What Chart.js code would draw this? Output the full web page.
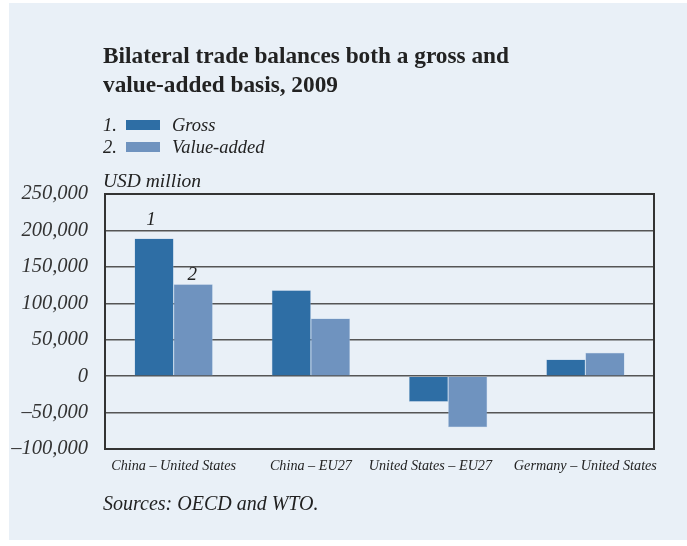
<!DOCTYPE html>
<html>
<head>
<meta charset="utf-8">
<script src="https://cdn.jsdelivr.net/npm/chart.js@4/dist/chart.umd.min.js"></script>
<style>
  body { margin: 0; background: #fff; }
  #panel { position: absolute; left: 9px; top: 3px; width: 678px; height: 537px; background: #e9f0f7; }
  #wrap { position: absolute; left: 0; top: 0; width: 687px; height: 546px; }
  .txt { position: absolute; font-family: "Liberation Serif", serif; color: #222; }
  #title { left: 103px; top: 41px; font-size: 23.3px; font-weight: bold; line-height: 29px; }
  #legend { left: 103px; top: 114px; font-size: 18.5px; font-style: italic; line-height: 22px; }
  .row { display: flex; align-items: center; }
  .num { width: 23px; }
  .sw { width: 34px; height: 10px; margin-right: 12px; }
  #unit { left: 103px; top: 170px; font-size: 19.5px; font-style: italic; }
  #note { left: 103px; top: 492px; font-size: 20px; font-style: italic; }
</style>
</head>
<body>
<div id="panel"></div>
<div id="wrap"><canvas id="chart" width="687" height="546"></canvas></div>
<div class="txt" id="title">Bilateral trade balances both a gross and<br>value-added basis, 2009</div>
<div class="txt" id="legend"></div>
<div class="txt" id="unit">USD million</div>
<div class="txt" id="note">Sources: OECD and WTO.</div>
<script>
var categories = ['China – United States', 'China – EU27', 'United States – EU27', 'Germany – United States'];
var seriesNames = ['Gross', 'Value-added'];
var grossValues = [189000, 118000, -35000, 23000];
var valueAddedValues = [126000, 79000, -70000, 32000];
var yTicks = [-100000, -50000, 0, 50000, 100000, 150000, 200000, 250000];
var colors = ['#2e6ea5', '#6f93bf'];

// legend built from the series names
var legendHtml = '';
seriesNames.forEach(function (name, i) {
    legendHtml += '<div class="row"><span class="num">' + (i + 1) + '.</span>' +
        '<span class="sw" style="background:' + colors[i] + '"></span>' + name + '</div>';
});
document.getElementById('legend').innerHTML = legendHtml;

function fmt(v) {
    var s = Math.abs(v).toLocaleString('en-US');
    return v < 0 ? '\u2013' + s : s;
}

// box around the plot and the small 1 / 2 markers on the first pair
var extras = {
    id: 'extras',
    afterDatasetsDraw: function (chart) {
        var ctx = chart.ctx;
        var a = chart.chartArea;
        ctx.save();
        ctx.strokeStyle = '#333';
        ctx.lineWidth = 2;
        ctx.strokeRect(a.left, a.top, a.right - a.left, a.bottom - a.top);
        ctx.fillStyle = '#222';
        ctx.font = 'italic 19px "Liberation Serif"';
        ctx.textAlign = 'center';
        ctx.textBaseline = 'bottom';
        var b1 = chart.getDatasetMeta(0).data[0];
        var b2 = chart.getDatasetMeta(1).data[0];
        ctx.fillText('1', b1.x - 3, b1.y - 9);
        ctx.fillText('2', b2.x - 1, b2.y - 0);
        ctx.restore();
    }
};

new Chart(document.getElementById('chart'), {
    type: 'bar',
    data: {
        labels: categories,
        datasets: [
            { label: seriesNames[0], data: grossValues, backgroundColor: colors[0], borderColor: '#9fbbd9', borderWidth: 0.5 },
            { label: seriesNames[1], data: valueAddedValues, backgroundColor: colors[1], borderColor: '#a9c3df', borderWidth: 0.5 }
        ]
    },
    options: {
        responsive: false,
        animation: false,
        layout: { padding: { left: 0, right: 33, top: 194, bottom: 66 } },
        plugins: { legend: { display: false }, tooltip: { enabled: false } },
        datasets: { bar: { categoryPercentage: 0.57, barPercentage: 1 } },
        scales: {
            x: {
                grid: { display: false },
                border: { display: false },
                ticks: {
                    color: '#222',
                    font: { family: 'Liberation Serif', style: 'italic', size: 14.2 },
                    maxRotation: 0,
                    autoSkip: false,
                    padding: 1,
                    // the third label sits a little left of its bars in the original
                    callback: function (v, i) {
                        return i === 2 ? categories[i] + '          ' : categories[i];
                    }
                },
                afterFit: function (scale) { scale.height = 31; }
            },
            y: {
                min: -100000,
                max: 250000,
                afterBuildTicks: function (scale) {
                    scale.ticks = yTicks.map(function (v) { return { value: v }; });
                },
                grid: { color: '#555', lineWidth: 1.5, drawTicks: false },
                border: { display: false },
                ticks: {
                    color: '#333',
                    font: { family: 'Liberation Serif', style: 'italic', size: 20.5 },
                    padding: 17,
                    callback: function (v) { return fmt(v); }
                },
                afterFit: function (scale) { scale.width = 105; }
            }
        }
    },
    plugins: [extras]
});
</script>
</body>
</html>
